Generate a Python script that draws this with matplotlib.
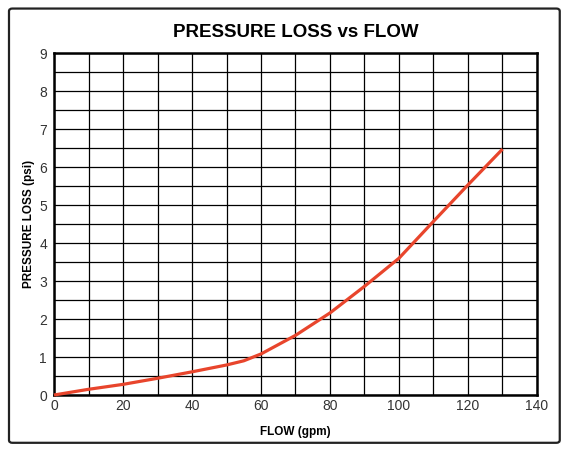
import numpy as np
import matplotlib
matplotlib.use("Agg")
import matplotlib.pyplot as plt
from matplotlib.patches import FancyBboxPatch

plt.rcParams['font.family'] = ['Liberation Sans', 'DejaVu Sans']

flow = [0, 10, 20, 30, 40, 50, 55, 60, 70, 80, 90, 100, 110, 120, 130]
loss = [0, 0.15, 0.28, 0.44, 0.61, 0.79, 0.9, 1.08, 1.57, 2.16, 2.86, 3.6, 4.57, 5.53, 6.47]

x_ticks = [0, 20, 40, 60, 80, 100, 120, 140]
y_ticks = [0, 1, 2, 3, 4, 5, 6, 7, 8, 9]

fig = plt.figure(figsize=(5.62, 4.50), dpi=100)
ax = fig.add_axes([0.0961, 0.1222, 0.8594, 0.76])

# outer frame
frame = FancyBboxPatch((0.016, 0.016), 0.98, 0.965, boxstyle="round,pad=0,rounding_size=0.006",
                       transform=fig.transFigure, fill=False, edgecolor="#222222", linewidth=1.6)
fig.patches.append(frame)

ax.plot(flow, loss, color="#e8452c", linewidth=2.3, solid_capstyle="butt", zorder=5, clip_on=False)

ax.set_xlim(0, 140)
ax.set_ylim(0, 9)
ax.set_xticks(x_ticks)
ax.set_yticks(y_ticks)
ax.set_xticks(np.arange(0, 141, 10), minor=True)
ax.set_yticks(np.arange(0, 9.01, 0.5), minor=True)
ax.grid(which="both", color="black", linewidth=0.9)
ax.set_axisbelow(True)
ax.tick_params(which="both", length=0, labelsize=10, labelcolor="#333333")
ax.tick_params(axis="x", pad=3)
ax.tick_params(axis="y", pad=5)
for s in ax.spines.values():
    s.set_linewidth(1.8)
    s.set_color("black")

ax.set_xlabel("FLOW (gpm)", fontsize=8.5, fontweight="bold", labelpad=9)
ax.set_ylabel("PRESSURE LOSS (psi)", fontsize=8.5, fontweight="bold", labelpad=3)
fig.text(0.527, 0.927, "PRESSURE LOSS vs FLOW", ha="center", va="center",
         fontsize=13.5, fontweight="bold")

fig.savefig("out.png", dpi=100)
